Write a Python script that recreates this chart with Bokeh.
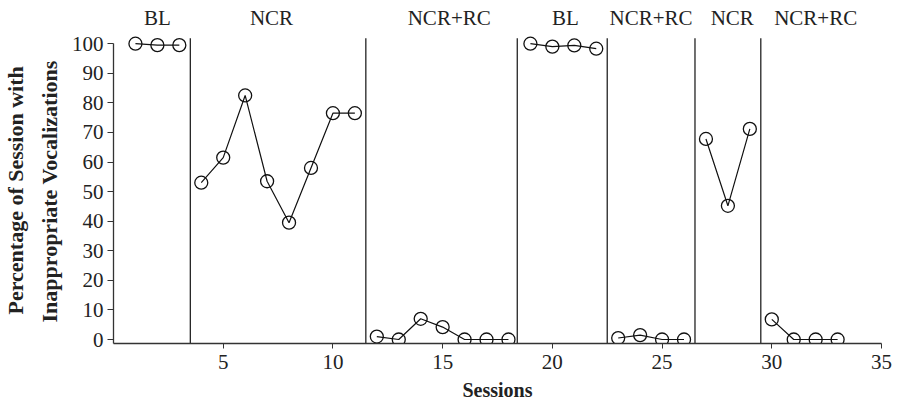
from bokeh.plotting import figure
from bokeh.models import Range1d, FixedTicker, ColumnDataSource, Title
from bokeh.core.properties import value
from bokeh.embed import file_html
from bokeh.resources import INLINE

# ---- data ----
sessions = list(range(1, 34))
percent = [100, 99.5, 99.5,
           53, 61.5, 82.5, 53.5, 39.5, 58, 76.5, 76.5,
           1, 0, 7, 4.2, 0, 0, 0,
           100, 99, 99.4, 98.3,
           0.5, 1.5, 0, 0,
           67.8, 45.2, 71.2,
           6.8, 0, 0, 0]
phase_sizes = [3, 8, 7, 4, 4, 3, 4]
phase_names = ["BL", "NCR", "NCR+RC", "BL", "NCR+RC", "NCR", "NCR+RC"]
phase_label_x = [2, 7.2, 15.3, 20.6, 24.5, 28.2, 32]
phase_change = [3.5, 11.5, 18.4, 22.5, 26.5, 29.5]
x_ticks = [5, 10, 15, 20, 25, 30, 35]
y_ticks = [0, 10, 20, 30, 40, 50, 60, 70, 80, 90, 100]
x_title = "Sessions"
y_title = ["Percentage of Session with", "Inappropriate Vocalizations"]

SERIF = "Liberation Serif"
TXT = "#222222"

p = figure(width=898, height=403, output_backend="svg", toolbar_location=None,
           x_range=Range1d(0, 35), y_range=Range1d(-1.35, 114.6),
           min_border_left=113, min_border_right=17, min_border_top=0,
           min_border_bottom=59)
p.outline_line_color = None
p.grid.visible = False
p.background_fill_color = "white"
p.border_fill_color = "white"

# phase change lines
p.segment(x0=phase_change, x1=phase_change, y0=[-1.35] * len(phase_change),
          y1=[101.8] * len(phase_change), line_color="#111111", line_width=1.2)

# data lines per phase
start = 0
for n in phase_sizes:
    xs = sessions[start:start + n]
    ys = percent[start:start + n]
    p.line(xs, ys, line_color="#111111", line_width=1.2)
    start += n
p.scatter(sessions, percent, size=13, marker="circle", fill_color=None,
          line_color="#111111", line_width=1.3)

# phase labels
src = ColumnDataSource(dict(x=phase_label_x, y=[108.6] * len(phase_names), t=phase_names))
p.text(x="x", y="y", text="t", source=src, text_align="center", text_baseline="middle",
       text_font=value(SERIF), text_font_size="21px", text_color=TXT)

# axes
xa = p.xaxis[0]
xa.ticker = FixedTicker(ticks=x_ticks)
xa.axis_label = x_title
xa.axis_label_text_font = SERIF
xa.axis_label_text_font_style = "bold"
xa.axis_label_text_font_size = "20px"
xa.axis_label_text_color = TXT
xa.axis_label_standoff = 7
xa.major_label_text_font = SERIF
xa.major_label_text_font_size = "21px"
xa.major_label_text_color = TXT
xa.major_label_standoff = 6
xa.major_tick_in = 0
xa.major_tick_out = 5
xa.minor_tick_out = 0
xa.minor_tick_in = 0
xa.axis_line_color = "#333333"
xa.axis_line_width = 1.3
xa.major_tick_line_color = "#333333"

ya = p.yaxis[0]
ya.ticker = FixedTicker(ticks=y_ticks)
ya.bounds = (-1.35, 100)
ya.major_label_text_font = SERIF
ya.major_label_text_font_size = "21px"
ya.major_label_text_color = TXT
ya.major_label_standoff = 4
ya.major_tick_in = 0
ya.major_tick_out = 6
ya.minor_tick_out = 0
ya.minor_tick_in = 0
ya.axis_line_color = "#333333"
ya.axis_line_width = 1.3
ya.major_tick_line_color = "#333333"

# y title as two vertical titles on the left (inner line first)
for line, gap, off in zip(reversed(y_title), [14, 0], [21, 29]):
    p.add_layout(Title(text=line, align="left", offset=off, standoff=gap,
                       text_font=SERIF, text_font_style="bold",
                       text_font_size="22px", text_color=TXT), "left")

open("out.html", "w").write(file_html(p, INLINE))
